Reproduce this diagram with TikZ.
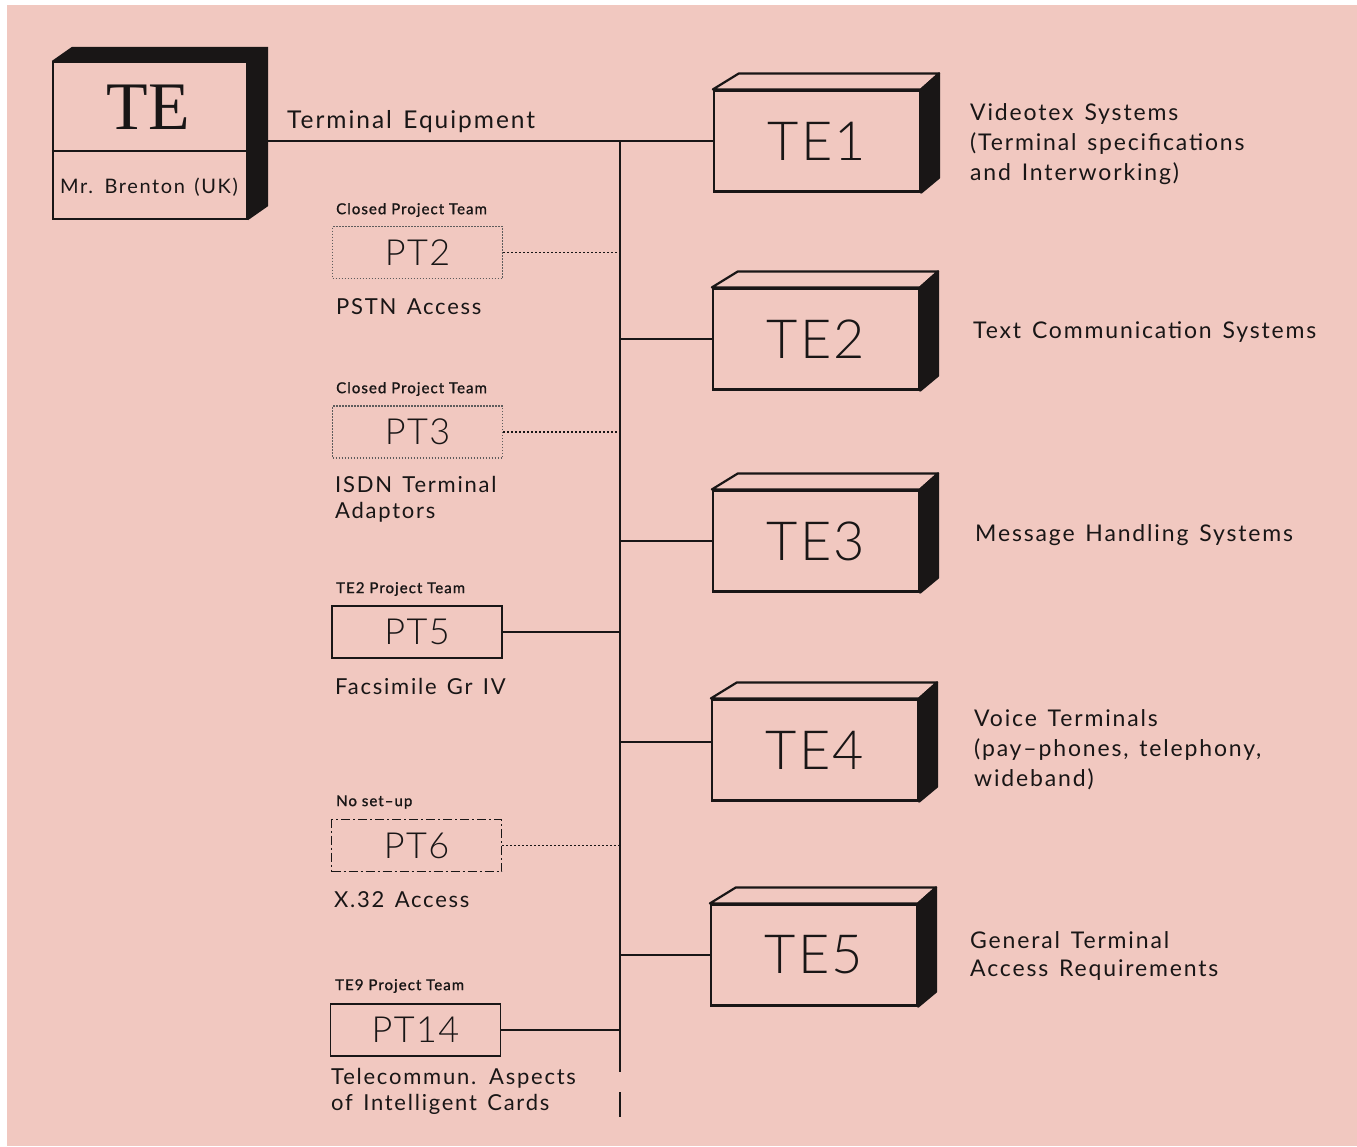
\documentclass[tikz,border=0pt]{standalone}
\usepackage{fontspec}
\setmainfont{Lato}[LetterSpace=8,WordSpace=1.4]
\newfontfamily\thinfont{Lato Light}[LetterSpace=4]
\newfontfamily\smallfont{Lato}[LetterSpace=7,FakeBold=1.2,Ligatures=TeX]
\newfontfamily\serifte{Liberation Serif}
\usetikzlibrary{calc}
\definecolor{bgpink}{RGB}{241,200,192}
\definecolor{ink}{RGB}{25,22,22}
\newcommand\mycube[4]{%
  \node[cubefront] (#1) at (#2,#3) {#4};
  \filldraw[fill=bgpink,draw=ink,line width=2.2pt,line join=round] (#1.north west) -- ++(26,-16) -- ($(#1.north east)+(18,-16)$) -- (#1.north east) -- cycle;
  \filldraw[fill=ink,draw=ink,line width=2.2pt,line join=round] (#1.north east) -- ++(18,-16) -- ($(#1.south east)+(18,-15)$) -- (#1.south east) -- cycle;
}
\begin{document}
\begin{tikzpicture}[x=1pt,y=-1pt,
  every node/.style={text=ink},
  line/.style={draw=ink,line width=2pt},
  cubefront/.style={draw=ink,line width=2.2pt,fill=bgpink,inner sep=0pt,minimum width=206pt,minimum height=101pt,font=\thinfont\fontsize{54}{54}\selectfont},
  ptbox/.style={draw=ink,line width=1.8pt,fill=bgpink,minimum width=170pt,minimum height=52pt,inner sep=0pt,font=\thinfont\fontsize{36}{36}\selectfont},
  ptdotbox/.style={ptbox,draw=ink!70,line width=1.3pt,dash pattern=on 1.5pt off 1.5pt},
  ptdashdot/.style={ptbox,dash pattern=on 9pt off 3pt on 2pt off 3pt,line width=1.5pt},
  desc/.style={anchor=west,align=left,inner sep=0pt,font=\fontsize{23}{30}\selectfont},
  ptdesc/.style={anchor=west,align=left,inner sep=0pt,font=\fontsize{22}{26}\selectfont},
  small/.style={anchor=west,inner sep=0pt,font=\smallfont\fontsize{15}{15}\selectfont},
  dotconn/.style={draw=ink,line width=1.5pt,dash pattern=on 2pt off 2pt}
]
\useasboundingbox (0,0) rectangle (1357,1146);
\fill[white] (0,0) rectangle (1357,1146);
\fill[bgpink] (7,5) rectangle (1357,1146);

% main TE box
\node[draw=ink,line width=2.2pt,fill=bgpink,minimum width=194pt,minimum height=157pt,inner sep=0pt] (te) at (150,140.5) {};
\fill[ink] (te.north west) -- ++(20,-14) -- ($(te.north east)+(20,-14)$) -- ($(te.south east)+(20,-14)$) -- (te.south east) -- (te.north east) -- cycle;
\draw[line] ($(te.north west)+(0,90)$) -- ($(te.north east)+(0,90)$);
\node[font=\serifte\fontsize{68}{68}\selectfont] (tetitle) at (148,107) {TE};
\node[font=\fontsize{20}{20}\selectfont] (teperson) at (149,187) {Mr. Brenton (UK)};
\node[desc,font=\fontsize{24.5}{30}\selectfont] (teq) at (287,122) {Terminal Equipment};

% trunk
\coordinate (teout) at (267,141);
\coordinate (trunkTop) at (620,141);
\coordinate (trunkBot) at (620,1072);
\coordinate (tailA) at (620,1092);
\coordinate (tailB) at (620,1117);
\draw[line] (trunkTop) -- (trunkBot);
\draw[line] (tailA) -- (tailB);

% TE working groups
\mycube{te1}{817}{141}{TE1}
\mycube{te2}{816}{339}{TE2}
\mycube{te3}{816}{541}{TE3}
\mycube{te4}{815}{750}{TE4}
\mycube{te5}{814}{955}{TE5}
\draw[line] (teout) -- (te1.west);
\draw[line] (te2.west -| trunkTop) -- (te2.west);
\draw[line] (te3.west -| trunkTop) -- (te3.west);
\draw[line] ($(te4.west -| trunkTop)+(0,-8)$) -- ($(te4.west)+(0,-8)$);
\draw[line] (te5.west -| trunkTop) -- (te5.west);

\node[desc] (d1) at (970,144.5) {Videotex Systems\\(Terminal specifications\\and Interworking)};
\node[desc] (d2) at (973,332) {Text Communication Systems};
\node[desc] (d3) at (975,535) {Message Handling Systems};
\node[desc] (d4) at (974,749.5) {Voice Terminals\\(pay--phones, telephony,\\wideband)};
\node[desc,font=\fontsize{23}{28}\selectfont] (d5) at (970,956) {General Terminal\\Access Requirements};

% project teams
\node[ptdotbox] (pt2) at (417.5,252.5) {PT2};
\node[ptdotbox] (pt3) at (417.5,432) {PT3};
\node[ptbox] (pt5) at (417,632) {PT5};
\node[ptdashdot] (pt6) at (416.5,845.5) {PT6};
\node[ptbox] (pt14) at (415.5,1030) {PT14};
\draw[dotconn] (pt2.east) -- (pt2.east -| trunkTop);
\draw[dotconn] (pt3.east) -- (pt3.east -| trunkTop);
\draw[line] (pt5.east) -- (pt5.east -| trunkTop);
\draw[dotconn] (pt6.east) -- (pt6.east -| trunkTop);
\draw[line] (pt14.east) -- (pt14.east -| trunkTop);

\node[small] (s2) at (336,210) {Closed Project Team};
\node[small] (s3) at (336,389) {Closed Project Team};
\node[small] (s5) at (336,589) {TE2 Project Team};
\node[small] (s6) at (336,802) {No set–up};
\node[small] (s14) at (335,986) {TE9 Project Team};

\node[ptdesc] (p2) at (336,307) {PSTN Access};
\node[ptdesc] (p3) at (335,499) {ISDN Terminal\\Adaptors};
\node[ptdesc] (p5) at (335,686) {Facsimile Gr IV};
\node[ptdesc] (p6) at (334,900) {X.32 Access};
\node[ptdesc] (p14) at (331,1091) {Telecommun. Aspects\\of Intelligent Cards};
\end{tikzpicture}
\end{document}
